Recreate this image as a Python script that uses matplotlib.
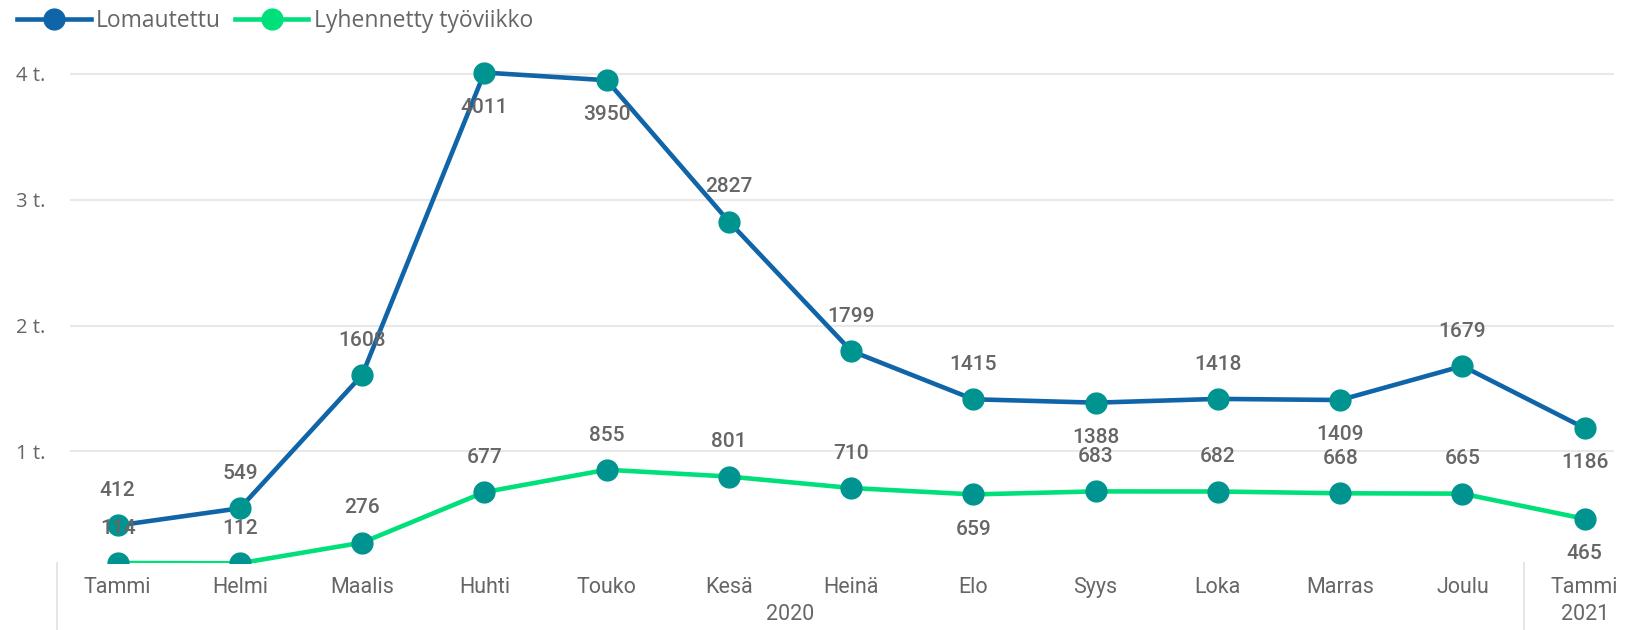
import matplotlib
matplotlib.use("Agg")
from matplotlib import pyplot as plt

# data
months = ['Tammi', 'Helmi', 'Maalis', 'Huhti', 'Touko', 'Kesä', 'Heinä',
          'Elo', 'Syys', 'Loka', 'Marras', 'Joulu', 'Tammi']
lomautettu = [412, 549, 1608, 4011, 3950, 2827, 1799, 1415, 1388, 1418, 1409, 1679, 1186]
lyhennetty = [114, 112, 276, 677, 855, 801, 710, 659, 683, 682, 668, 665, 465]
# +1 label above point, -1 label below
lom_pos = [1, 1, 1, -1, -1, 1, 1, 1, -1, 1, -1, 1, -1]
lyh_pos = [1, 1, 1, 1, 1, 1, 1, -1, 1, 1, 1, 1, -1]
yticks = [1000, 2000, 3000, 4000]
ytick_labels = ['1 t.', '2 t.', '3 t.', '4 t.']

blue = '#1065A8'
green = '#00E07A'
teal = '#009490'
txt = '#666666'

W, H = 1635, 630
fig = plt.figure(figsize=(W / 100, H / 100), dpi=100)
ax = fig.add_axes([70 / W, 1 - 563 / H, (1614 - 70) / W, (563 - 45) / H])

x = list(range(len(months)))
ax.plot(x, lomautettu, color=blue, lw=3.3, zorder=3, clip_on=False)
ax.plot(x, lyhennetty, color=green, lw=3.3, zorder=3)
ax.plot(x, lomautettu, 'o', color=teal, ms=15, zorder=4, clip_on=False)
ax.plot(x, lyhennetty, 'o', color=teal, ms=15, zorder=4)

for i in x:
    ax.annotate(str(lomautettu[i]), (i, lomautettu[i]), xytext=(0, 25 * lom_pos[i]),
                textcoords='offset points', ha='center', va='center',
                fontsize=15, color=txt, family='Roboto', fontweight='medium', zorder=5)
    ax.annotate(str(lyhennetty[i]), (i, lyhennetty[i]), xytext=(0, 25 * lyh_pos[i]),
                textcoords='offset points', ha='center', va='center',
                fontsize=15, color=txt, family='Roboto', fontweight='medium', zorder=5)

ax.set_xlim(-0.39, 12.24)
ax.set_ylim(114, 4230)
ax.set_yticks(yticks)
ax.set_yticklabels(ytick_labels, fontsize=14.5, color=txt, family='Open Sans')
ax.grid(axis='y', color='#E8E8E8', lw=1.5)
ax.set_axisbelow(True)
ax.tick_params(axis='y', length=0, pad=18)

ax.set_xticks(x)
ax.set_xticklabels(months, fontsize=15.5, color=txt, family='Roboto')
ax.tick_params(axis='x', length=0, pad=10)
for s in ax.spines.values():
    s.set_visible(False)

# year labels and separators under the category axis
ax.text(5.5, -0.1, '2020', transform=ax.get_xaxis_transform(), ha='center', va='center',
        fontsize=15.5, color=txt, family='Roboto')
ax.text(12, -0.1, '2021', transform=ax.get_xaxis_transform(), ha='center', va='center',
        fontsize=15.5, color=txt, family='Roboto')
ax.plot([11.5, 11.5], [0, -0.13], transform=ax.get_xaxis_transform(),
        color='#E0E0E0', lw=1.2, clip_on=False)
fig.add_artist(plt.Line2D([57 / W, 57 / W], [0, 1 - 563 / H], color='#E0E0E0', lw=1.2))

# legend
leg = ax.legend([plt.Line2D([], [], color=blue, lw=3.3, marker='o', ms=15),
                 plt.Line2D([], [], color=green, lw=3.3, marker='o', ms=15)],
                ['Lomautettu', 'Lyhennetty työviikko'], loc='upper left',
                bbox_to_anchor=(8 / W, 1.0), bbox_transform=fig.transFigure,
                ncol=2, frameon=False, handlelength=3.2, handletextpad=0.25,
                columnspacing=0.6, borderaxespad=0,
                prop={'family': 'Open Sans', 'size': 16.5})
for t in leg.get_texts():
    t.set_color(txt)

fig.savefig('out.png', dpi=100, facecolor='white')
